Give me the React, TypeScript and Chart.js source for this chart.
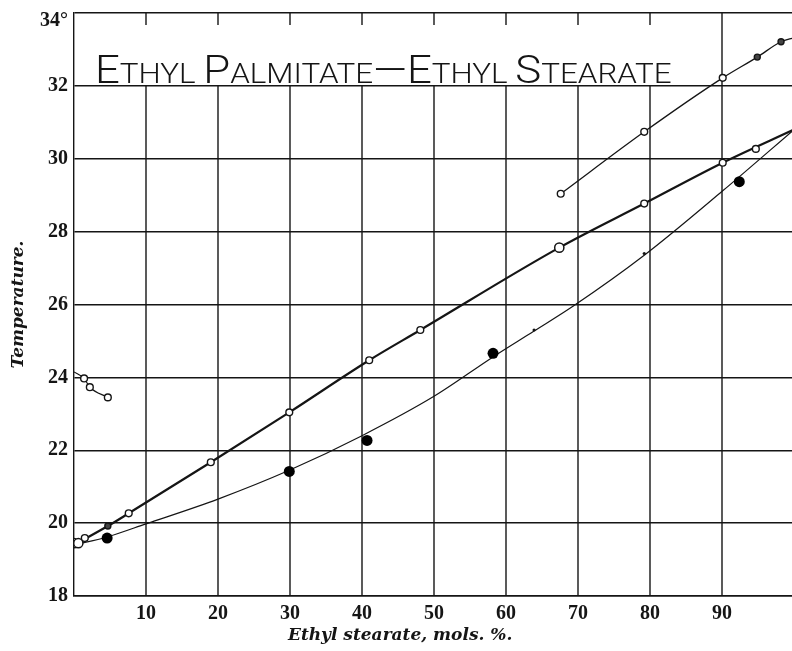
import { useEffect, useRef } from 'react';
import { Chart, registerables } from 'chart.js';

Chart.register(...registerables);

// Axis ranges and ticks
const xMin = 0;
const xMax = 100;
const xStep = 10;
const yMin = 18;
const yMax = 34;
const yStep = 2;
const verticalGridValues = [10, 20, 30, 40, 50, 60, 70, 80, 90];

// Curves (hand-drawn lines) [x, y]
const liquidusCurve: [number, number][] = [
  [0, 19.4], [4.7, 19.92], [7.6, 20.27], [19.0, 21.67], [29.9, 23.04], [41.0, 24.47],
  [48.1, 25.3], [67.4, 27.56], [79.2, 28.77], [90.1, 29.89], [100, 30.8],
];
const solidusCurve: [number, number][] = [
  [0, 19.4], [4.6, 19.62], [10, 19.98], [20, 20.66], [29.9, 21.45], [40, 22.4],
  [50, 23.48], [58.2, 24.56], [63.9, 25.27], [69.3, 25.95], [79.2, 27.35], [90.1, 29.12], [100, 30.8],
];
const upperRightCurve: [number, number][] = [
  [67.6, 29.04], [79.2, 30.74], [90.1, 32.22], [94.9, 32.79], [98.2, 33.21], [100, 33.32],
];
const upperLeftCurve: [number, number][] = [
  [0, 24.15], [1.4, 23.97], [2.2, 23.73], [4.7, 23.45],
];

// Observed points [x, y]
const openSmallPoints: [number, number][] = [
  [7.6, 20.27], [19.0, 21.67], [29.9, 23.04], [41.0, 24.47], [48.1, 25.3],
  [79.2, 28.77], [90.1, 29.89], [94.7, 30.27],
  [67.6, 29.04], [79.2, 30.74], [90.1, 32.22],
  [1.4, 23.97], [2.2, 23.73], [4.7, 23.45],
  [1.5, 19.59],
];
const openLargePoints: [number, number][] = [
  [0.0, 19.45], [0.6, 19.45], [67.4, 27.56],
];
const darkSmallPoints: [number, number][] = [
  [4.7, 19.92], [94.9, 32.79], [98.2, 33.21],
];
const filledBigPoints: [number, number][] = [
  [4.6, 19.59], [29.9, 21.42], [40.7, 22.27], [58.2, 24.66], [92.4, 29.37],
];
const tinyMarks: [number, number][] = [
  [63.9, 25.3], [79.2, 27.4],
];

// Texts
const titleParts: [string, boolean][] = [
  ['E', true], ['THYL ', false], ['P', true], ['ALMITATE', false], ['\u2014', true],
  ['E', true], ['THYL ', false], ['S', true], ['TEARATE', false],
];
const xTitle = 'Ethyl stearate, mols. %.';
const yTitle = 'Temperature.';

const INK = '#151515';

const toPts = (arr: [number, number][]) => arr.map(([x, y]) => ({ x, y }));

const gridPlugin = {
  id: 'customGrid',
  beforeDatasetsDraw(chart: any) {
    const { ctx, scales } = chart;
    const xs = scales.x;
    const ys = scales.y;
    const top = ys.getPixelForValue(yMax);
    const bottom = ys.getPixelForValue(yMin);
    ctx.save();
    ctx.strokeStyle = INK;
    ctx.lineWidth = 1.4;
    for (const v of verticalGridValues) {
      const px = xs.getPixelForValue(v);
      const startY = v === 90 ? top : ys.getPixelForValue(32);
      ctx.beginPath();
      ctx.moveTo(px, startY);
      ctx.lineTo(px, bottom);
      ctx.stroke();
      if (v !== 90) {
        ctx.beginPath();
        ctx.moveTo(px, top);
        ctx.lineTo(px, top + 12);
        ctx.stroke();
      }
    }
    const rx = xs.getPixelForValue(xMax);
    ctx.beginPath();
    ctx.moveTo(rx, top);
    ctx.lineTo(rx, bottom);
    ctx.stroke();
    ctx.restore();
  },
  afterDraw(chart: any) {
    const { ctx, scales } = chart;
    const xs = scales.x;
    const ys = scales.y;
    // hand-lettered title
    ctx.save();
    const bigFont = '300 39px Roboto, "DejaVu Sans", sans-serif';
    const smallFont = '300 28px Roboto, "DejaVu Sans", sans-serif';
    let total = 0;
    const widths: number[] = [];
    for (const [t, big] of titleParts) {
      ctx.font = big ? bigFont : smallFont;
      const w = ctx.measureText(t).width;
      widths.push(w);
      total += w;
    }
    const x0 = xs.getPixelForValue(2.9);
    const x1 = xs.getPixelForValue(83);
    const baseline = ys.getPixelForValue(32) - 2.5;
    ctx.translate(x0, baseline);
    ctx.scale((x1 - x0) / total, 1);
    ctx.fillStyle = INK;
    ctx.textBaseline = 'alphabetic';
    ctx.textAlign = 'left';
    let cx = 0;
    titleParts.forEach(([t, big], i) => {
      ctx.font = big ? bigFont : smallFont;
      ctx.fillText(t, cx, 0);
      cx += widths[i];
    });
    ctx.restore();

    // x axis title
    ctx.save();
    ctx.font = 'italic bold 17px "DejaVu Serif", serif';
    ctx.fillStyle = INK;
    ctx.textAlign = 'center';
    ctx.textBaseline = 'middle';
    ctx.fillText(xTitle, xs.getPixelForValue(45.3), 636);
    ctx.restore();
  },
};

export default function App() {
  const canvasRef = useRef<HTMLCanvasElement | null>(null);

  useEffect(() => {
    if (!canvasRef.current) return;
    const lineBase = {
      type: 'scatter' as const,
      showLine: true,
      pointRadius: 0,
      borderColor: INK,
      cubicInterpolationMode: 'monotone' as const,
      order: 2,
    };
    const chart = new Chart(canvasRef.current, {
      type: 'scatter',
      data: {
        datasets: [
          {
            label: 'tiny', data: toPts(tinyMarks), pointRadius: 1.6,
            pointBackgroundColor: INK, pointBorderColor: INK, pointBorderWidth: 0, order: 0,
          },
          {
            label: 'filled', data: toPts(filledBigPoints), pointRadius: 5.5,
            pointBackgroundColor: '#000', pointBorderColor: '#000', pointBorderWidth: 0, order: 0,
          },
          {
            label: 'darkSmall', data: toPts(darkSmallPoints), pointRadius: 3,
            pointBackgroundColor: '#444', pointBorderColor: INK, pointBorderWidth: 1.4, order: 0,
          },
          {
            label: 'openLarge', data: toPts(openLargePoints), pointRadius: 4.6,
            pointBackgroundColor: '#fff', pointBorderColor: INK, pointBorderWidth: 1.5, order: 0,
          },
          {
            label: 'openSmall', data: toPts(openSmallPoints), pointRadius: 3.4,
            pointBackgroundColor: '#fff', pointBorderColor: INK, pointBorderWidth: 1.4, order: 0,
          },
          { ...lineBase, label: 'liquidus', data: toPts(liquidusCurve), borderWidth: 2.2 },
          { ...lineBase, label: 'solidus', data: toPts(solidusCurve), borderWidth: 1.2 },
          { ...lineBase, label: 'upperRight', data: toPts(upperRightCurve), borderWidth: 1.3 },
          { ...lineBase, label: 'upperLeft', data: toPts(upperLeftCurve), borderWidth: 1.2 },
        ],
      },
      options: {
        responsive: false,
        animation: false,
        events: [],
        layout: { padding: { left: 0, right: 36, top: 13, bottom: 0 } },
        plugins: {
          legend: { display: false },
          tooltip: { enabled: false },
          title: { display: false },
        },
        scales: {
          x: {
            type: 'linear',
            min: xMin,
            max: xMax,
            afterFit: (s: any) => {
              s.height = 55;
              s.paddingLeft = 0;
              s.paddingRight = 0;
            },
            grid: { display: false, drawTicks: false },
            border: { display: true, color: INK, width: 1.4 },
            ticks: {
              stepSize: xStep,
              padding: 6,
              color: INK,
              font: { family: '"Liberation Serif", serif', size: 20, weight: 'bold' },
              callback: (v: any) => (v === xMin || v === xMax ? '' : String(v)),
            },
          },
          y: {
            type: 'linear',
            min: yMin,
            max: yMax,
            afterFit: (s: any) => {
              s.width = 74;
              s.paddingTop = 0;
              s.paddingBottom = 0;
            },
            grid: { display: true, drawTicks: false, color: INK, lineWidth: 1.4 },
            border: { display: true, color: INK, width: 1.4 },
            title: {
              display: true,
              text: yTitle,
              color: INK,
              padding: { top: 8, bottom: 0 },
              font: { family: '"DejaVu Serif", serif', size: 17, style: 'italic', weight: 'bold' },
            },
            ticks: {
              stepSize: yStep,
              padding: 6,
              color: INK,
              font: { family: '"Liberation Serif", serif', size: 20, weight: 'bold', lineHeight: 0.8 },
              callback: (v: any) => (v === yMax ? ['', `${v}\u00b0`] : String(v)),
            },
          },
        },
      },
      plugins: [gridPlugin],
    });
    return () => chart.destroy();
  }, []);

  return (
    <div
      style={{
        position: 'fixed',
        left: 0,
        top: 0,
        width: 792,
        height: 651,
        overflow: 'hidden',
        background: '#fff',
      }}
    >
      <canvas ref={canvasRef} width={830} height={651} style={{ display: 'block', width: 830, height: 651 }} />
    </div>
  );
}
